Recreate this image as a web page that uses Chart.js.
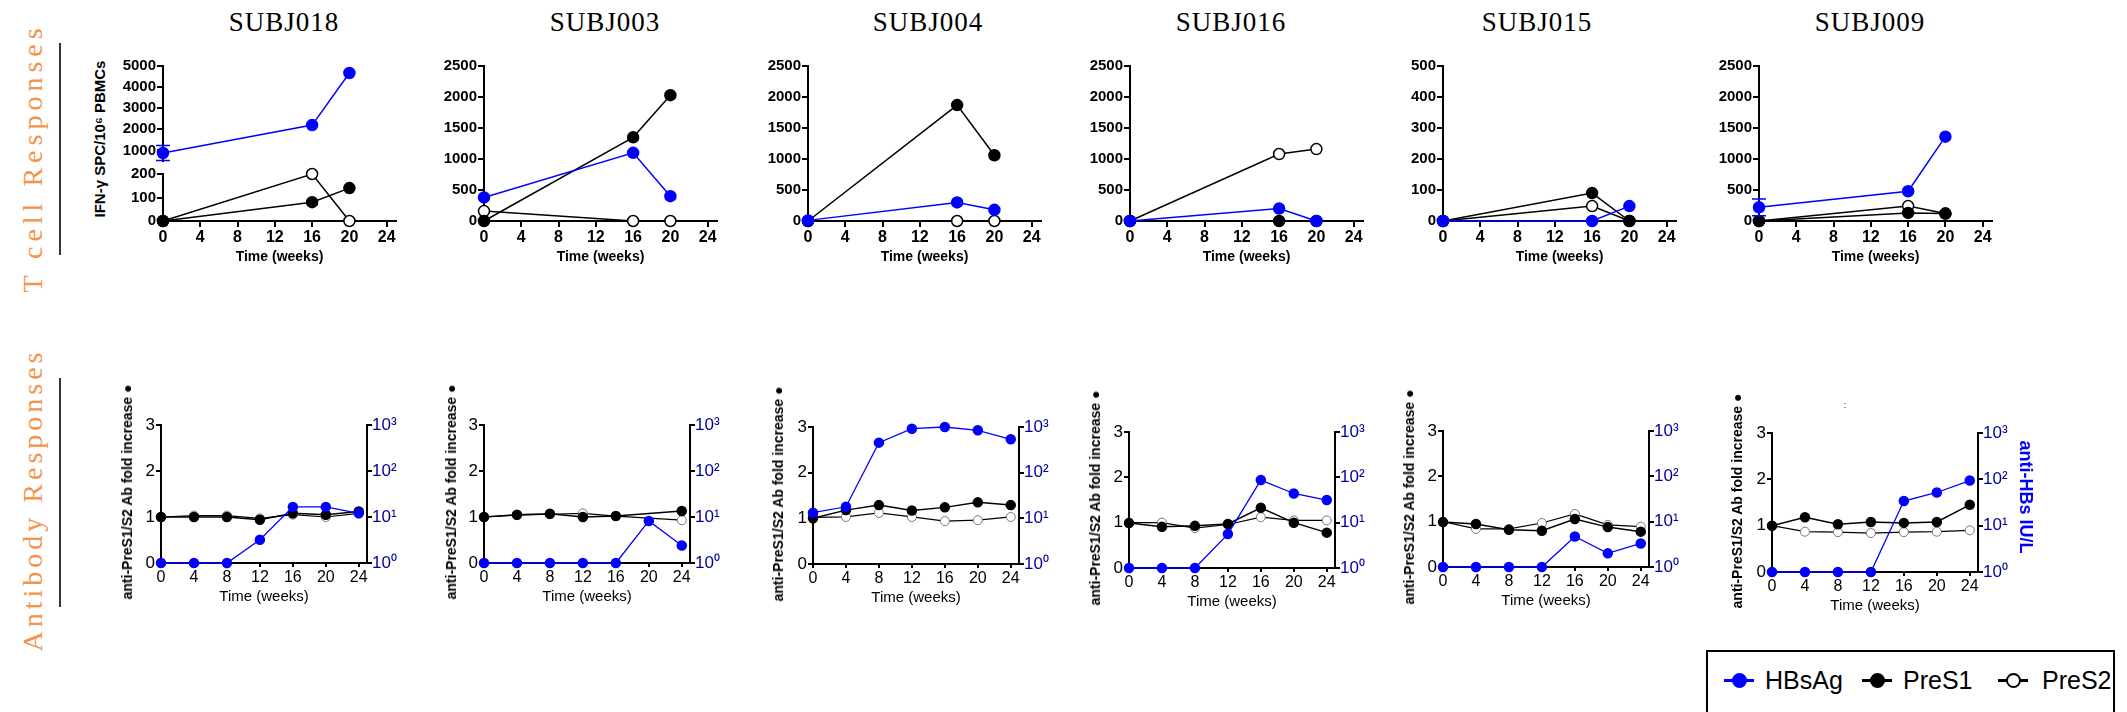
<!DOCTYPE html>
<html lang="en">
  <head>
    <meta charset="utf-8" />
    <title>T cell and antibody responses</title>
    <style>
      * {
        margin: 0;
        padding: 0;
      }
      body {
        width: 2127px;
        height: 712px;
        background: #fff;
        position: relative;
        overflow: hidden;
        font-family: "Liberation Sans", Arial, sans-serif;
      }
      canvas {
        position: absolute;
      }
    </style>
  </head>
  <body>
    <script src="https://cdn.jsdelivr.net/npm/chart.js"></script>
    <script>
      // data block
      const subjects = ["SUBJ018", "SUBJ003", "SUBJ004", "SUBJ016", "SUBJ015", "SUBJ009"];
      const tcellWeeks = [0, 16, 20];
      const abWeeks = [0, 4, 8, 12, 16, 20, 24];
      const weekTicks = [0, 4, 8, 12, 16, 20, 24];
      const legendLabels = ["HBsAg", "PreS1", "PreS2"];

      // IFN-g SPC per 10^6 PBMCs at weeks 0, 16, 20
      const tcellHBsAg = [[880, 2200, 4670], [380, 1100, 400], [10, 300, 180], [0, 200, 0], [0, 0, 48], [220, 480, 1360]];
      const tcellPreS1 = [[0, 80, 140], [0, 1350, 2030], [0, 1870, 1060], [0, 0, 0], [0, 90, 0], [0, 130, 120]];
      const tcellPreS2 = [[0, 200, 0], [160, 0, 0], [0, 0, 0], [0, 1080, 1160], [0, 48, 0], [0, 240, 120]];
      const tcellHBsAgErr = [[360, null, null], null, null, null, null, [135, null, null]];
      const tcellYMax = [5000, 2500, 2500, 2500, 500, 2500];
      const tcellYStep = [1000, 500, 500, 500, 100, 500];

      // anti-HBs IU/L (right, log) and anti-PreS1/S2 fold increase (left)
      const abHBsAg = [
        [1, 1, 1, 3.2, 16.6, 16.6, 12],
        [1, 1, 1, 1, 1, 8.2, 2.4],
        [13.3, 17.9, 454, 917, 1000, 847, 537],
        [1, 1, 1, 5.6, 87, 44, 31.6],
        [1, 1, 1, 1, 4.7, 2.0, 3.3],
        [1, 1, 1, 1, 34, 52, 94],
      ];
      const abPreS1 = [
        [1.0, 1.0, 1.0, 0.94, 1.08, 1.05, 1.12],
        [1.0, 1.05, 1.07, 1.0, 1.02, null, 1.13],
        [1.0, 1.18, 1.29, 1.17, 1.24, 1.35, 1.29],
        [0.99, 0.91, 0.93, 0.97, 1.33, 1.0, 0.78],
        [0.99, 0.95, 0.82, 0.8, 1.06, 0.88, 0.78],
        [1.0, 1.18, 1.03, 1.08, 1.06, 1.08, 1.45],
      ];
      const abPreS2 = [
        [1.0, 1.03, 1.03, 0.97, 1.05, 1.0, 1.08],
        [1.0, 1.04, 1.06, 1.08, 1.02, null, 0.93],
        [1.02, 1.03, 1.12, 1.03, 0.94, 0.96, 1.03],
        [1.0, 1.0, 0.88, 0.96, 1.12, 1.05, 1.05],
        [1.0, 0.84, 0.84, 0.97, 1.17, 0.93, 0.89],
        [1.0, 0.87, 0.86, 0.84, 0.86, 0.87, 0.9],
      ];

      // layout block
      const SANS = "'Liberation Sans', Arial, sans-serif";
      const SERIF = "'Liberation Serif', 'Times New Roman', serif";
      const BLUE = "#0000ff";
      const NAVY = "#000099";
      const ORANGE = "#f4934a";
      const titleX = [284, 605, 928, 1231, 1537, 1870];
      const tcellAxisX = [163, 484, 808, 1130, 1443, 1759];
      const abAxisX = [161, 484, 813, 1129, 1443, 1772];
      const abTop = [425, 425, 427, 432, 431, 433];
      const abBottom = [563, 563, 564, 568, 567, 572];
      const abLabelX = [127, 451, 778, 1095, 1409, 1737];

      Chart.defaults.font.family = SANS;
      Chart.defaults.color = "#000";

      const addBox = (css) => {
        const d = document.createElement("div");
        d.style.cssText = "position:absolute;" + css;
        document.body.appendChild(d);
        return d;
      };
      const addLabel = (text, cx, cy, css, rot) => {
        const d = addBox(
          `left:${cx}px;top:${cy}px;white-space:nowrap;transform:translate(-50%,-50%) rotate(${rot || 0}deg);` + css
        );
        d.textContent = text;
        return d;
      };
      const makeCanvas = (left, top, w, h) => {
        const c = document.createElement("canvas");
        c.width = w;
        c.height = h;
        c.style.cssText = `left:${left}px;top:${top}px;width:${w}px;height:${h}px`;
        document.body.appendChild(c);
        return c;
      };

      // error bar plugin
      const errorBars = {
        id: "errorBars",
        afterDatasetsDraw(chart) {
          const { ctx } = chart;
          chart.data.datasets.forEach((ds, i) => {
            if (!ds.errors) return;
            const meta = chart.getDatasetMeta(i);
            const yScale = chart.scales[meta.yAxisID];
            ds.errors.forEach((e, j) => {
              if (e == null) return;
              const x = meta.data[j].x;
              const v = ds.data[j].y;
              const y1 = yScale.getPixelForValue(v - e);
              const y2 = yScale.getPixelForValue(v + e);
              ctx.save();
              ctx.strokeStyle = ds.borderColor;
              ctx.lineWidth = 1.5;
              ctx.beginPath();
              ctx.moveTo(x, y1);
              ctx.lineTo(x, y2);
              ctx.moveTo(x - 7, y1);
              ctx.lineTo(x + 7, y1);
              ctx.moveTo(x - 7, y2);
              ctx.lineTo(x + 7, y2);
              ctx.stroke();
              ctx.restore();
            });
          });
        },
      };

      const lineSet = (label, data, color, fill, radius, width, yAxisID, pointColor) => ({
        label,
        data,
        yAxisID: yAxisID || "y",
        borderColor: color,
        backgroundColor: fill,
        pointBackgroundColor: fill,
        pointBorderColor: pointColor || color,
        pointRadius: radius,
        pointBorderWidth: 1.5,
        borderWidth: width,
        tension: 0,
        clip: false,
        spanGaps: true,
      });

      const fixedTicks = (vals) => (s) => {
        s.ticks = vals.map((v) => ({ value: v }));
      };

      const xScale = (show, bold, boxH, tickLen) => ({
        type: "linear",
        min: 0,
        max: 25,
        display: show,
        afterBuildTicks: fixedTicks(weekTicks),
        afterFit: (s) => {
          s.height = show ? boxH : 0;
        },
        border: { color: "#000", width: 2 },
        grid: { drawOnChartArea: false, color: "#000", lineWidth: 2, tickLength: tickLen },
        ticks: {
          color: "#000",
          font: { family: SANS, size: 16, weight: bold ? "bold" : "normal" },
          padding: 1,
          maxRotation: 0,
          autoSkip: false,
          callback: (v) => String(v),
        },
        title: {
          display: true,
          text: "Time (weeks)",
          color: "#000",
          font: { family: SANS, size: bold ? 14 : 15, weight: bold ? "bold" : "normal" },
          padding: 0,
        },
      });

      const yScale = (min, max, vals, boxW, bold) => ({
        type: "linear",
        min,
        max,
        afterBuildTicks: fixedTicks(vals),
        afterFit: (s) => {
          s.width = boxW;
        },
        border: { color: "#000", width: 2 },
        grid: { drawOnChartArea: false, color: "#000", lineWidth: 2, tickLength: 6 },
        ticks: {
          color: "#000",
          font: { family: SANS, size: bold ? 15 : 17, weight: bold ? "bold" : "normal" },
          padding: 1,
          autoSkip: false,
          callback: (v) => String(v),
        },
      });

      const baseOptions = (scales, padding) => ({
        responsive: false,
        animation: false,
        devicePixelRatio: 1,
        layout: { padding },
        plugins: { legend: { display: false }, tooltip: { enabled: false } },
        scales,
      });

      // side labels
      addLabel("T cell Responses", 33, 158, `font:28px ${SERIF};letter-spacing:5px;color:${ORANGE}`, -90);
      addLabel("Antibody Responses", 33, 500, `font:28px ${SERIF};letter-spacing:4px;color:${ORANGE}`, -90);
      addBox("left:59px;top:43px;width:2px;height:212px;background:#333");
      addBox("left:59px;top:378px;width:2px;height:229px;background:#333");

      addLabel("IFN-\u03b3 SPC/10\u2076 PBMCs", 99, 139, `font:bold 15px ${SANS};color:#000`, -90);

      // T cell row
      const TW = 233;
      subjects.forEach((name, i) => {
        addLabel(name, titleX[i], 22, `font:27px ${SERIF};letter-spacing:1px;color:#000`);
        const ax = tcellAxisX[i];
        const pts = (ys) => tcellWeeks.map((x, k) => ({ x, y: ys[k] }));
        const hbs = lineSet(legendLabels[0], pts(tcellHBsAg[i]), BLUE, BLUE, 5.5, 1.5);
        hbs.errors = tcellHBsAgErr[i];
        const s1 = lineSet(legendLabels[1], pts(tcellPreS1[i]), "#000", "#000", 5.5, 1.5);
        const s2 = lineSet(legendLabels[2], pts(tcellPreS2[i]), "#000", "#fff", 5.5, 1.5);

        if (i === 0) {
          // broken y axis: upper 500-5000, lower 0-200
          const up = makeCanvas(ax - 70, 56, 70 + TW + 15, 115);
          new Chart(up, {
            type: "line",
            data: { datasets: [hbs] },
            options: baseOptions(
              { x: xScale(false, true, 45, 6), y: yScale(500, 5000, [1000, 2000, 3000, 4000, 5000], 70, true) },
              { top: 10, bottom: 10, left: 0, right: 15 }
            ),
            plugins: [errorBars],
          });
          const low = makeCanvas(ax - 70, 164, 70 + TW + 15, 10 + 47 + 45);
          new Chart(low, {
            type: "line",
            data: { datasets: [s1, s2] },
            options: baseOptions(
              { x: xScale(true, true, 45, 6), y: yScale(0, 200, [0, 100, 200], 70, true) },
              { top: 10, bottom: 0, left: 0, right: 15 }
            ),
          });
        } else {
          const vals = [];
          for (let v = 0; v <= tcellYMax[i]; v += tcellYStep[i]) vals.push(v);
          const c = makeCanvas(ax - 70, 56, 70 + TW + 15, 10 + 155 + 45);
          new Chart(c, {
            type: "line",
            data: { datasets: [hbs, s1, s2] },
            options: baseOptions(
              { x: xScale(true, true, 45, 6), y: yScale(0, tcellYMax[i], vals, 70, true) },
              { top: 10, bottom: 0, left: 0, right: 15 }
            ),
            plugins: [errorBars],
          });
        }
      });

      // antibody row
      const AW = 206;
      const sup = ["\u2070", "\u00b9", "\u00b2", "\u00b3"];
      subjects.forEach((name, i) => {
        const pts = (ys) => abWeeks.map((x, k) => ({ x, y: ys[k] }));
        const hbs = lineSet(legendLabels[0], pts(abHBsAg[i]), BLUE, BLUE, 4.5, 1.3, "y2");
        const s1 = lineSet(legendLabels[1], pts(abPreS1[i]), "#000", "#000", 4.5, 1.5);
        const s2 = lineSet(legendLabels[2], pts(abPreS2[i]), "#000", "#fff", 4.5, 1.2, "y", "#777");
        s2.pointBorderWidth = 1;

        const h = abBottom[i] - abTop[i];
        const c = makeCanvas(abAxisX[i] - 40, abTop[i] - 15, 40 + AW + 55, 15 + h + 43);
        const y = yScale(0, 3, [0, 1, 2, 3], 40, false);
        y.grid.tickLength = 5;
        const y2 = {
          type: "logarithmic",
          position: "right",
          min: 1,
          max: 1000,
          afterBuildTicks: fixedTicks([1, 10, 100, 1000]),
          afterFit: (s) => {
            s.width = 55;
          },
          border: { color: "#000", width: 2 },
          grid: { drawOnChartArea: false, color: "#000", lineWidth: 2, tickLength: 5 },
          ticks: {
            color: NAVY,
            font: { family: SANS, size: 17 },
            padding: 0,
            callback: (v) => "10" + sup[Math.round(Math.log10(v))],
          },
        };
        new Chart(c, {
          type: "line",
          data: { datasets: [hbs, s1, s2] },
          options: baseOptions(
            { x: xScale(true, false, 43, 4), y, y2 },
            { top: 15, bottom: 0, left: 0, right: 0 }
          ),
        });
        addLabel(
          "anti-PreS1/S2 Ab fold increase \u25cf",
          abLabelX[i],
          (abTop[i] + abBottom[i]) / 2 - 2,
          `font:bold 14px ${SANS};color:#000`,
          -90
        );
      });

      addLabel("anti-HBs IU/L", 2025, 497, `font:bold 18px ${SANS};color:${BLUE}`, 90);
      addLabel(":", 1845, 405, `font:9px ${SANS};color:#000`);

      // legend block
      addBox("left:1706px;top:650px;width:405px;height:90px;border:2px solid #000;");
      const legendColors = [BLUE, "#000", "#000"];
      const legendFills = [BLUE, "#000", "#fff"];
      const legendLineX = [1724, 1862, 1998];
      const legendTextX = [1765, 1903, 2042];
      legendLabels.forEach((text, k) => {
        const lx = legendLineX[k];
        addBox(`left:${lx}px;top:679px;width:30px;height:3px;background:${legendColors[k]}`);
        addBox(
          `left:${lx + 8}px;top:673px;width:15px;height:15px;box-sizing:border-box;border-radius:50%;background:${legendFills[k]};border:2px solid ${legendColors[k]}`
        );
        const t = addBox(`left:${legendTextX[k]}px;top:680px;transform:translateY(-50%);font:25px ${SANS};color:#000;white-space:nowrap`);
        t.textContent = text;
      });
    </script>
  </body>
</html>
